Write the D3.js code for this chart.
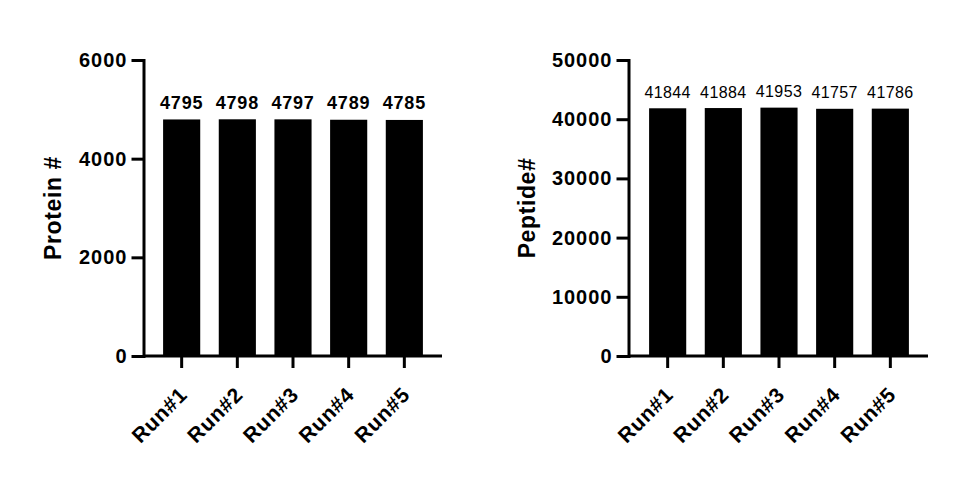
<!DOCTYPE html>
<html>
<head>
<meta charset="utf-8">
<script src="https://cdn.jsdelivr.net/npm/d3@7"></script>
<style>
  html, body { margin: 0; padding: 0; background: #fff; }
  svg { display: block; font-family: "Liberation Sans", Arial, Helvetica, sans-serif; }
</style>
</head>
<body>
<svg id="chart" width="962" height="478"></svg>
<script>
// ---- data ----
const runs = ["Run#1", "Run#2", "Run#3", "Run#4", "Run#5"];
const proteinCounts = [4795, 4798, 4797, 4789, 4785];
const peptideCounts = [41844, 41884, 41953, 41757, 41786];
const proteinTicks = [0, 2000, 4000, 6000];
const peptideTicks = [0, 10000, 20000, 30000, 40000, 50000];
const proteinTitle = "Protein #";
const peptideTitle = "Peptide#";

// ---- layout ----
const svg = d3.select("#chart");
const panels = [
  { values: proteinCounts, ticks: proteinTicks, title: proteinTitle, yMax: 6000,
    axisX: 143.5, xRange: [145, 441], axisEnd: 442, titleX: 61,
    labelWeight: "bold", labelSize: 18, labelSpacing: 0.8 },
  { values: peptideCounts, ticks: peptideTicks, title: peptideTitle, yMax: 50000,
    axisX: 628.5, xRange: [631, 927], axisEnd: 928, titleX: 535,
    labelWeight: "normal", labelSize: 16, labelSpacing: 0.4 }
];
const yTop = 60, yBottom = 356;

panels.forEach(p => {
  const g = svg.append("g");
  const x = d3.scaleBand().domain(runs).range(p.xRange).paddingInner(0.333).paddingOuter(0.325);
  const y = d3.scaleLinear().domain([0, p.yMax]).range([yBottom, yTop]);

  // bars
  g.selectAll("rect.bar").data(p.values).join("rect")
    .attr("class", "bar")
    .attr("x", (d, i) => x(runs[i]))
    .attr("width", x.bandwidth())
    .attr("y", d => y(d))
    .attr("height", d => y(0) - y(d))
    .attr("fill", "#000");

  // value labels
  g.selectAll("text.val").data(p.values).join("text")
    .attr("class", "val")
    .attr("x", (d, i) => x(runs[i]) + x.bandwidth() / 2)
    .attr("y", d => y(d) - 10.5)
    .attr("text-anchor", "middle")
    .attr("font-size", p.labelSize)
    .attr("font-weight", p.labelWeight)
    .attr("letter-spacing", p.labelSpacing)
    .attr("fill", "#000")
    .text(d => d);

  // y axis
  const yAxis = g.append("g")
    .attr("transform", `translate(${p.axisX},0)`)
    .call(d3.axisLeft(y).tickValues(p.ticks).tickSize(12).tickSizeOuter(0).tickPadding(4).tickFormat(d3.format("d")));
  yAxis.select(".domain").attr("stroke-width", 3).attr("stroke-linecap", "square").attr("stroke", "#000");
  yAxis.selectAll(".tick line").attr("stroke-width", 3).attr("stroke", "#000");
  yAxis.selectAll(".tick text")
    .attr("font-size", 20).attr("font-weight", "bold").attr("fill", "#000")
    .attr("letter-spacing", 1)
    .attr("font-family", "'Liberation Sans', Arial, sans-serif");

  // x axis
  const xAxis = g.append("g")
    .attr("transform", `translate(0,${yBottom})`)
    .call(d3.axisBottom(x).tickSize(12).tickSizeOuter(0));
  xAxis.select(".domain").remove();
  xAxis.append("line")
    .attr("x1", p.axisX).attr("x2", p.axisEnd)
    .attr("y1", 0).attr("y2", 0)
    .attr("stroke", "#000").attr("stroke-width", 3);
  xAxis.selectAll(".tick line").attr("stroke-width", 3).attr("stroke", "#000");
  xAxis.selectAll(".tick text")
    .attr("font-size", 21).attr("font-weight", "bold").attr("fill", "#000")
    .attr("font-family", "'Liberation Sans', Arial, sans-serif")
    .attr("letter-spacing", 0.8)
    .attr("text-anchor", "end")
    .attr("dy", null)
    .attr("y", 0)
    .attr("transform", "translate(7,40) rotate(-45)");

  // y title
  g.append("text")
    .attr("transform", `translate(${p.titleX},${(yTop + yBottom) / 2}) rotate(-90)`)
    .attr("text-anchor", "middle")
    .attr("font-size", 23)
    .attr("font-weight", "bold")
    .attr("letter-spacing", 0.6)
    .attr("fill", "#000")
    .text(p.title);
});
</script>
</body>
</html>
